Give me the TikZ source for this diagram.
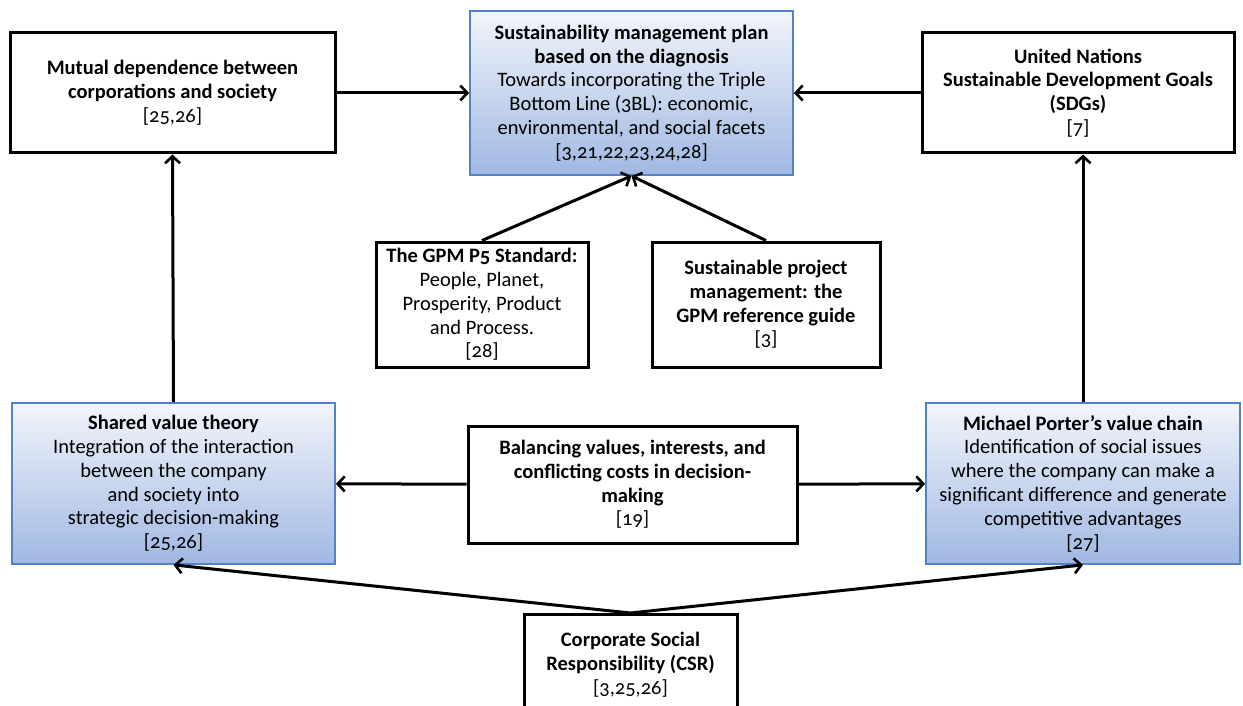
\documentclass[tikz,border=0pt]{standalone}
\usepackage{fontspec}
\setmainfont{Carlito}[Numbers=OldStyle]
\usetikzlibrary{arrows.meta}
\definecolor{boxblue}{RGB}{84,130,200}
\definecolor{shadetop}{RGB}{242,245,251}
\definecolor{shadebot}{RGB}{160,184,226}

\begin{document}
\begin{tikzpicture}[x=1pt,y=-1pt,
    plainbox/.style={draw=black, line width=3pt, fill=white, align=center,
      inner sep=2pt, font=\fontsize{20.5}{23.8}\selectfont},
    bluebox/.style={draw=boxblue, line width=1.8pt, top color=shadetop,
      bottom color=shadebot, align=center, inner sep=2pt,
      font=\fontsize{20.5}{23.8}\selectfont},
    link/.style={line width=3pt, -{Straight Barb[length=7pt,width=15pt,line width=2.6pt]}}]
  \useasboundingbox (0,0) rectangle (1243,706);

  % Top row
  \node[plainbox, minimum width=325pt, minimum height=120pt] (mutual) at (172.5,93)
    {\textbf{Mutual dependence between}\\\textbf{corporations and society}\\{}[25,26]};
  \node[bluebox, minimum width=323pt, minimum height=164pt] (plan) at (631.5,93)
    {\textbf{Sustainability management plan}\\\textbf{based on the diagnosis}\\Towards incorporating the Triple\\Bottom Line (3BL): economic,\\environmental, and social facets\\{}[3,21,22,23,24,28]};
  \node[plainbox, minimum width=312pt, minimum height=120pt] (sdg) at (1078,93)
    {\textbf{United Nations}\\\textbf{Sustainable Development Goals}\\\textbf{(SDGs)}\\{}[7]};

  % GPM boxes
  \node[plainbox, minimum width=212pt, minimum height=125pt] (pfive) at (482,304.5)
    {\textbf{The GPM P5 Standard:}\\People, Planet,\\Prosperity, Product\\and Process.\\{}[28]};
  \node[plainbox, minimum width=228pt, minimum height=125pt] (guide) at (766,304.5)
    {\textbf{Sustainable project}\\\textbf{management: the}\\\textbf{GPM reference guide}\\{}[3]};

  % Middle row
  \node[bluebox, minimum width=323pt, minimum height=161pt] (shared) at (173.5,483.5)
    {\textbf{Shared value theory}\\Integration of the interaction\\between the company\\and society into\\strategic decision-making\\{}[25,26]};
  \node[plainbox, minimum width=329pt, minimum height=117pt] (balance) at (632.5,484.5)
    {\textbf{Balancing values, interests, and}\\\textbf{conflicting costs in decision-}\\\textbf{making}\\{}[19]};
  \node[bluebox, minimum width=314pt, minimum height=161pt] (porter) at (1083,483.5)
    {\textbf{Michael Porter's value chain}\\Identification of social issues\\where the company can make a\\significant difference and generate\\competitive advantages\\{}[27]};

  % Bottom box (cut by the page edge)
  \node[plainbox, minimum width=213pt, minimum height=100pt, anchor=north] (csr) at (630.5,613)
    {\textbf{Corporate Social}\\\textbf{Responsibility (CSR)}\\{}[3,25,26]};

  % Arrows
  \draw[link] (mutual) -- (plan);
  \draw[link] (sdg) -- (plan);
  \draw[link] (pfive.north) -- (plan.south);
  \draw[link] (guide.north) -- (plan.south);
  \draw[link] (shared.north) -- (mutual.south);
  \draw[link] (porter.north) -- (porter.north |- sdg.south);
  \draw[link] (balance) -- (shared);
  \draw[link] (balance) -- (porter);
  \draw[link] (csr.north) -- (shared.south);
  \draw[link] (csr.north) -- (porter.south);
\end{tikzpicture}
\end{document}
